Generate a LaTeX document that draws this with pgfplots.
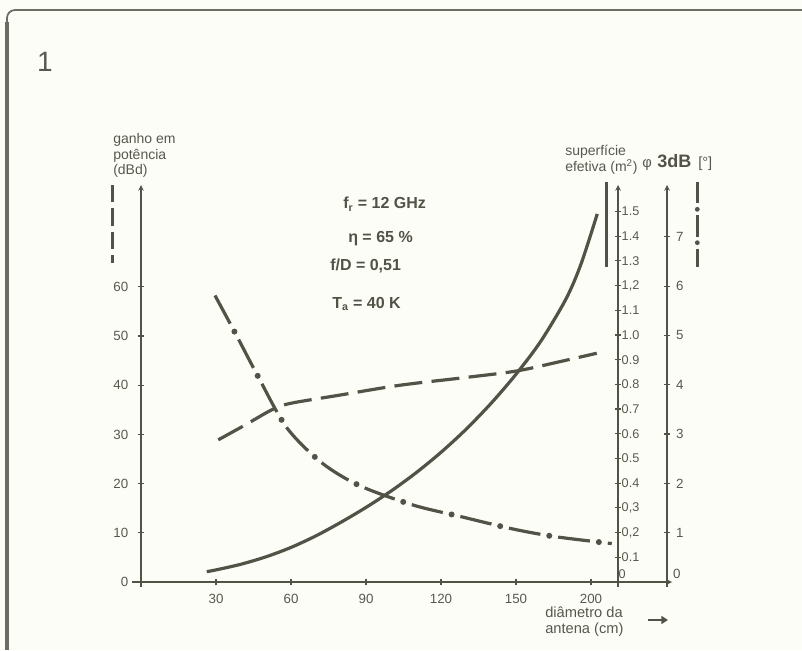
\documentclass[border=0pt]{standalone}
\usepackage{pgfplots}
\pgfplotsset{compat=1.18}
\usepackage{fontspec}
\setmainfont{Liberation Sans}
\usetikzlibrary{arrows.meta}
\definecolor{ink}{RGB}{82,82,70}
\definecolor{txt}{RGB}{88,88,78}
\definecolor{paper}{RGB}{253,253,248}

\pgfplotsset{chart/.style={
  scale only axis, anchor=south west, at={(105.75pt,-436.5pt)},
  xmin=0, ymin=0, clip=false,
  tick align=outside,
  tick style={ink, line width=0.9pt},
  axis line style={ink, line width=0.9pt},
  x axis line style={-},
  y axis line style={-{Triangle[width=9pt,length=9pt]}},
  ticklabel style={txt, font=\fontsize{10}{12}\selectfont},
  /pgf/number format/assume math mode=true,
}}

\begin{document}
\begin{tikzpicture}
\begin{scope}[x=0.75pt,y=-0.75pt]
\path[use as bounding box, fill=paper] (0,0) rectangle (802,650);
% frame
\draw[ink!85, line width=2.6pt] (7,650) -- (7,22);
\draw[ink!85, line width=1.3pt, rounded corners=6] (7,40) -- (7,10) -- (802,10);
\node[txt, font=\fontsize{21}{24}\selectfont] at (45,62) {1};

% axis titles
\node[txt, anchor=north west, align=left, font=\fontsize{10.5}{11.8}\selectfont, inner sep=0pt] at (113,133) {ganho em\\potência\\(dBd)};
\node[txt, anchor=north west, align=left, font=\fontsize{10.5}{11.8}\selectfont, inner sep=0pt] at (565,145) {superfície\\efetiva (m\textsuperscript{2})};
\node[txt, anchor=base west, inner sep=0pt, font=\fontsize{11}{12}\selectfont] at (642,167) {φ};
\node[ink, anchor=base west, inner sep=0pt, font=\fontsize{13.5}{14}\selectfont\bfseries] at (657,167) {3dB};
\node[txt, anchor=base west, inner sep=0pt, font=\fontsize{11}{12}\selectfont] at (698,167) {[°]};

% parameters
\node[ink, anchor=west, inner sep=0pt, font=\fontsize{12}{14}\selectfont\bfseries] at (343,204) {f\textsubscript{r} = 12 GHz};
\node[ink, anchor=west, inner sep=0pt, font=\fontsize{12}{14}\selectfont\bfseries] at (348,239) {η = 65 \%};
\node[ink, anchor=west, inner sep=0pt, font=\fontsize{12}{14}\selectfont\bfseries] at (330,266) {f/D = 0,51};
\node[ink, anchor=west, inner sep=0pt, font=\fontsize{12}{14}\selectfont\bfseries] at (332,304) {T\textsubscript{a} = 40 K};

% legend glyphs
\draw[ink, line width=2.4pt, dash pattern=on 13pt off 4.5pt] (112.7,185) -- (112.7,263);
\draw[ink, line width=2.4pt] (606.7,182) -- (606.7,267);
\draw[ink, line width=2.4pt, dash pattern=on 16pt off 9pt,
      postaction={draw, ink, line width=3.6pt, line cap=round, dash pattern=on 0pt off 25pt, dash phase=4.5pt}]
      (697.3,182) -- (697.3,267);

% x label
\node[txt, anchor=north west, align=left, font=\fontsize{11}{11.5}\selectfont, inner sep=0pt] at (545,607) {diâmetro da\\antena (cm)};
\draw[ink, line width=1.8pt, -{Triangle[width=6pt,length=5pt]}] (648,620) -- (668,620);
\end{scope}

% gain axis (left)
\begin{axis}[chart, width=398.25pt, height=297.75pt, xmax=212.4, ymax=80.7,
  axis x line=bottom, axis y line=left,
  xtick={30,60,90,120,150,180}, xticklabels={30,60,90,120,150,200},
  ytick={0,10,20,30,40,50,60},
  major tick length=5pt,
  xticklabel style={yshift=-3pt},
  yticklabel style={xshift=-3.5pt}]
\addplot[ink, line width=2.4pt, dash pattern=on 21pt off 7pt, smooth] coordinates {
(30.9,28.9) (41.6,31.9) (52.3,35.0) (59.6,36.3) (79.6,38.0) (103.6,40.0)
(130.3,41.6) (150.3,42.9) (167.6,44.8) (182.3,46.5)};
\draw[ink, line width=0.9pt] (axis cs:0,0) -- ++(-7pt,0pt);
\draw[ink, line width=0.9pt] (axis cs:0,0) -- ++(0pt,-4pt);
\end{axis}

% effective area axis
\begin{axis}[chart, width=357.75pt, height=297.75pt, xmax=190.8, ymax=1.607,
  axis x line=none, axis y line=right,
  ytick={0.1,0.2,0.3,0.4,0.5,0.6,0.7,0.8,0.9,1.0,1.1,1.2,1.3,1.4,1.5},
  yticklabels={0.1,{0,2},{0,3},0.4,0.5,0.6,0.7,0.8,0.9,1.0,1.1,{1,2},1.3,1.4,1.5},
  extra y ticks={0}, extra y tick labels={0},
  extra y tick style={major tick length=0pt, yticklabel style={yshift=6pt}},
  major tick length=4.5pt,
  yticklabel style={font=\fontsize{9.5}{11}\selectfont, xshift=-3pt}]
\addplot[ink, line width=2.4pt, smooth] coordinates {
(26.3,0.042) (30,0.049) (40,0.072) (50,0.102) (60,0.140) (70,0.187) (80,0.242)
(90,0.302) (100,0.368) (110,0.442) (120,0.525) (130,0.618) (140,0.723)
(150,0.841) (160,0.976) (170,1.146) (176,1.287) (182.5,1.49)};
\draw[ink, line width=0.9pt] (axis cs:190.8,0) -- ++(0pt,-4pt);
\end{axis}

% beamwidth axis
\begin{axis}[chart, width=394.5pt, height=297.75pt, xmax=210.4, ymax=8.05,
  axis x line=none, axis y line=right,
  ytick={1,2,3,4,5,6,7},
  extra y ticks={0}, extra y tick labels={0},
  extra y tick style={major tick length=0pt, yticklabel style={yshift=6pt}},
  major tick length=4.5pt,
  yticklabel style={font=\fontsize{10}{12}\selectfont, xshift=1pt}]
\addplot[ink, line width=2.4pt, dash pattern=on 24pt off 13.5pt, smooth,
  postaction={draw, ink, line width=4.5pt, line cap=round, dash pattern=on 0pt off 37.5pt, dash phase=6.75pt}]
  coordinates {
(29.6,5.81) (38.3,4.99) (46.9,4.16) (58.3,3.13) (72.5,2.41) (87.6,1.95)
(108.9,1.56) (127.6,1.33) (148.3,1.08) (165.6,0.92) (188.3,0.78)};
\draw[ink, line width=0.9pt] (axis cs:210.4,0) -- ++(0pt,-4pt);
\end{axis}
\end{tikzpicture}
\end{document}
